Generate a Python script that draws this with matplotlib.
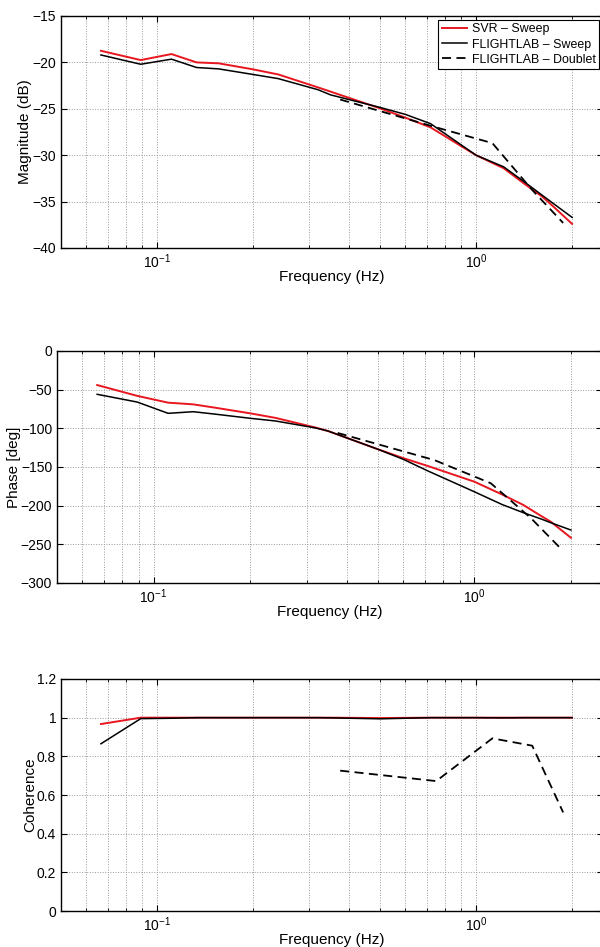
import numpy as np
import matplotlib
matplotlib.use("Agg")
import matplotlib.pyplot as plt
from matplotlib.ticker import LogLocator, LogFormatterSciNotation, NullFormatter

plt.rcParams['font.family'] = ['Liberation Sans', 'DejaVu Sans']
plt.rcParams['mathtext.fontset'] = 'custom'
plt.rcParams['mathtext.rm'] = 'Liberation Sans'
plt.rcParams['mathtext.it'] = 'Liberation Sans:italic'

# sweep identification frequencies (Hz)
f_sweep = [0.0667, 0.0889, 0.111, 0.133, 0.156, 0.2, 0.24, 0.32, 0.35,
           0.5, 0.6, 0.72, 1.0, 1.22, 1.42, 1.61, 1.73, 2.0]
# doublet identification frequencies (Hz)
f_doublet = [0.375, 0.75, 1.125, 1.5, 1.875]

mag_svr = [-18.75, -19.75, -19.1, -20.0, -20.1, -20.75, -21.3, -22.7, -23.15,
           -24.95, -25.95, -27.0, -30.0, -31.4, -33.1, -34.45, -35.4, -37.4]
mag_fl_sweep = [-19.2, -20.2, -19.65, -20.55, -20.7, -21.3, -21.75, -22.95, -23.5,
                -24.85, -25.6, -26.6, -30.0, -31.25, -32.9, -34.3, -35.1, -36.7]
mag_fl_doublet = [-24.0, -27.0, -28.7, -33.75, -37.3]

ph_svr = [-44, -58, -66.8, -69, -73.4, -80.6, -86.5, -99, -103.5,
          -127, -138.5, -149, -169, -185.5, -199, -213, -220.7, -241.5]
ph_fl_sweep = [-56, -66, -80.6, -78.5, -81.7, -87, -90.5, -99.5, -103.5,
               -127, -140, -155.5, -182, -198.5, -209, -217, -222, -231.5]
ph_fl_doublet = [-106, -141, -171, -216, -257]

coh_svr = [0.967, 1.0, 1.0, 1.0, 1.0, 1.0, 1.0, 1.0, 1.0,
           0.998, 0.999, 1.0, 1.0, 1.0, 1.0, 1.0, 1.0, 1.0]
coh_fl_sweep = [0.865, 0.995, 0.997, 1.0, 1.0, 1.0, 1.0, 1.0, 0.999,
                0.994, 0.997, 1.0, 1.0, 0.999, 1.0, 1.0, 1.0, 1.0]
coh_fl_doublet = [0.726, 0.672, 0.893, 0.855, 0.51]

W, H = 600, 947
fig = plt.figure(figsize=(W / 100, H / 100), dpi=100)

def px_axes(left, top, right, bottom):
    return fig.add_axes([left / W, 1 - bottom / H, (right - left) / W, (bottom - top) / H])

ax1 = px_axes(61, 16, 603, 248)
ax2 = px_axes(57, 351, 602, 583)
ax3 = px_axes(61, 679, 603, 911)

panels = [
    (ax1, mag_svr, mag_fl_sweep, mag_fl_doublet, 'Magnitude (dB)', (-40, -15), np.arange(-40, -14, 5)),
    (ax2, ph_svr, ph_fl_sweep, ph_fl_doublet, 'Phase [deg]', (-300, 0), np.arange(-300, 1, 50)),
    (ax3, coh_svr, coh_fl_sweep, coh_fl_doublet, 'Coherence', (0, 1.2), np.arange(0, 1.21, 0.2)),
]

for ax, svr, fls, fld, ylab, ylim, yticks in panels:
    ax.semilogx(f_sweep, svr, color='#e8171f', lw=1.4, label='SVR – Sweep')
    ax.semilogx(f_sweep, fls, color='black', lw=1.1, label='FLIGHTLAB – Sweep')
    ax.semilogx(f_doublet, fld, color='black', lw=1.3, ls=(0, (5, 3)), label='FLIGHTLAB – Doublet')
    ax.set_xlim(0.05, 2.5)
    ax.set_ylim(*ylim)
    ax.set_yticks(yticks)
    ax.set_yticklabels([('%g' % round(t, 1)).replace('-', '\u2212') for t in yticks])
    ax.xaxis.set_major_locator(LogLocator(base=10))
    ax.xaxis.set_major_formatter(LogFormatterSciNotation())
    ax.xaxis.set_minor_locator(LogLocator(base=10, subs=np.arange(2, 10)))
    ax.xaxis.set_minor_formatter(NullFormatter())
    ax.grid(True, which='major', ls=':', lw=0.7, color='#999999')
    ax.grid(True, which='minor', axis='x', ls=':', lw=0.7, color='#999999')
    ax.tick_params(which='both', direction='in', top=True, right=True, labelsize=10)
    ax.tick_params(which='major', length=4, width=0.8)
    ax.tick_params(which='minor', length=2, width=0.6)
    for s in ax.spines.values():
        s.set_linewidth(1.0)
    ax.set_xlabel('Frequency (Hz)', fontsize=11, labelpad=-1)
    ax.set_ylabel(ylab, fontsize=11, labelpad=0)

leg = ax1.legend(loc='upper right', bbox_to_anchor=(1.0, 1.0), fontsize=8.9,
                 fancybox=False, framealpha=1, edgecolor='black', borderaxespad=0.3,
                 handlelength=2.0, handletextpad=0.4, borderpad=0.3, labelspacing=0.25)
leg.get_frame().set_linewidth(0.8)

fig.savefig('out.png', dpi=100)
